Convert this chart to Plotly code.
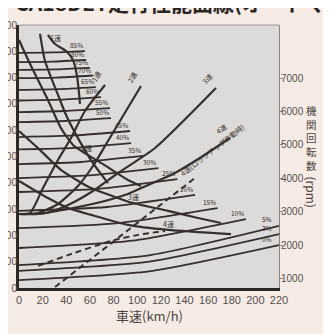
import plotly.graph_objects as go

# ---------------- data ----------------
speed_ticks = list(range(0, 221, 20))
rpm_ticks = [1000, 2000, 3000, 4000, 5000, 6000, 7000]
force_ticks = list(range(0, 1001, 100))

# running-resistance curves per grade: force at 0 km/h, mid speed, end speed
grade_labels = ["85%", "80%", "75%", "70%", "65%", "60%", "55%", "50%", "45%", "40%",
                "35%", "30%", "25%", "20%", "15%", "10%", "5%", "3%", "0%"]
grade_end_speed = [55.8, 56.7, 60.1, 62.6, 65.0, 69.4, 77.0, 77.8, 94.0, 94.8,
                   105, 118, 134, 149, 168, 192, 220, 220, 220]
grade_force_start = [894, 859, 829, 798, 753, 713, 669, 631, 574, 527,
                     471, 418, 365, 293, 228, 152, 87, 65, 30]
grade_force_mid = [896, 861, 831, 800, 756, 716, 673, 635, 580, 533,
                   479, 428, 377, 308, 247, 180, 124, 100, 63]
grade_force_end = [901, 867, 837, 808, 764, 726, 684, 646, 597, 551,
                   502, 456, 414, 354, 304, 262, 236, 205, 163]

# engine speed per gear (right axis)
rpm1_speed = [0, 9.3, 20.3, 33.0, 44.0, 55.8, 72.8]
rpm1_value = [2940, 2970, 3716, 4552, 5209, 6015, 6791]
rpm2_speed = [0, 16.1, 33.0, 49.9, 62.6, 75.3, 103.2]
rpm2_value = [2940, 2970, 3239, 3776, 4373, 5119, 6761]
rpm3_speed = [0, 22.8, 41.5, 62.6, 83.8, 115.1, 166.7]
rpm3_value = [2940, 2970, 3209, 3627, 4164, 4910, 6701]
rpm4_speed = [0, 16.1, 41.5, 69.4, 92.2, 109.2, 130.3, 155.7, 178.5]
rpm4_value = [2940, 2940, 3090, 3299, 3537, 3806, 4134, 4672, 5209]
rpm4_lockup_speed = [30.5, 148.9]
rpm4_lockup_value = [761, 4015]

# driving force per gear (left axis)
drive1_speed = [24.5, 30.5, 39.8, 45.7, 49.1, 50.8, 51.6]
drive1_force = [962, 928, 901, 867, 806, 741, 700]
drive_a_speed = [0, 10.2, 24.5, 35.5, 45.7, 56.7, 71.1, 92.2, 103.2]
drive_a_force = [943, 844, 715, 608, 544, 510, 471, 411, 388]
drive_b_speed = [17.8, 22.0, 33.0, 39.8, 49.9, 62.6, 75.3]
drive_b_force = [966, 863, 734, 658, 570, 475, 399]
drive3_speed = [0, 16.1, 35.5, 60.9, 83.8, 96.5, 126.1, 151.5, 170.9]
drive3_force = [597, 532, 449, 380, 342, 323, 293, 266, 247]
drive4_speed = [0, 24.5, 41.5, 60.9, 92.2, 126.1, 179.4]
drive4_force = [407, 342, 304, 278, 240, 221, 205]
drive4_lockup_speed = [16.1, 41.5, 77.8, 100.7, 123.5]
drive4_lockup_force = [84, 125, 179, 202, 217]

# ---------------- figure ----------------
INK = "#352f2d"
GREY = "#555050"
fig = go.Figure()


def add(xs, ys, axis="y", width=2.0, dash="solid", shape="spline"):
    fig.add_trace(go.Scatter(x=xs, y=ys, mode="lines", yaxis=axis, hoverinfo="skip",
                             line=dict(color=INK, width=width, dash=dash, shape=shape,
                                       smoothing=0.6)))


for lab, e, f0, fm, fe in zip(grade_labels, grade_end_speed, grade_force_start,
                              grade_force_mid, grade_force_end):
    add([0, e / 2, e], [f0, fm, fe], width=1.8)

add(drive1_speed, drive1_force, width=2.2)
add(drive_a_speed, drive_a_force, width=2.2)
add(drive_b_speed, drive_b_force, width=2.2)
add(drive3_speed, drive3_force, width=2.2)
add(drive4_speed, drive4_force, width=2.2)
add(drive4_lockup_speed, drive4_lockup_force, width=2.0, dash="6px,4px")

add(rpm1_speed, rpm1_value, axis="y2", width=2.2)
add(rpm2_speed, rpm2_value, axis="y2", width=2.2)
add(rpm3_speed, rpm3_value, axis="y2", width=2.2)
add(rpm4_speed, rpm4_value, axis="y2", width=2.2)
add(rpm4_lockup_speed, rpm4_lockup_value, axis="y2", width=2.0, dash="6px,4px", shape="linear")

ann = []
small = dict(size=7, color=INK, family="Noto Sans CJK JP")
tiny = dict(size=6.5, color=INK, family="Noto Sans CJK JP")
for lab, e, fe in zip(grade_labels, grade_end_speed, grade_force_end):
    xs = -6 if e >= 220 else -1
    ys = 1 if lab == "5%" else 0
    ann.append(dict(x=e, y=fe, xref="x", yref="y", text=lab, showarrow=False, borderpad=0,
                    xanchor="right", yanchor="bottom", xshift=xs, yshift=ys, font=tiny))

# gear labels at ends of engine-speed curves
for lab, xs, ys, ang in [("1速", rpm1_speed, rpm1_value, -60), ("2速", rpm2_speed, rpm2_value, -60),
                         ("3速", rpm3_speed, rpm3_value, -45), ("4速", rpm4_speed, rpm4_value, -35)]:
    ann.append(dict(x=xs[-1], y=ys[-1], xref="x", yref="y2", text=lab, showarrow=False,
                    borderpad=0, textangle=ang, xanchor="right", yanchor="bottom", font=small))
# gear labels on driving-force curves
for lab, xs, ys, i in [("1速", drive1_speed, drive1_force, 1), ("2速", drive_a_speed, drive_a_force, 5),
                       ("3速", drive3_speed, drive3_force, 5), ("4速", drive4_speed, drive4_force, 5)]:
    ann.append(dict(x=xs[i], y=ys[i], xref="x", yref="y", text=lab, showarrow=False,
                    borderpad=0, yanchor="bottom", xanchor="center", font=small))
ann.append(dict(x=rpm4_lockup_speed[-1], y=rpm4_lockup_value[-1], xref="x", yref="y2",
                text="4速(ロックアップ作動時)", showarrow=False, textangle=-38, borderpad=0,
                xanchor="left", yanchor="middle", xshift=-18, yshift=28, font=small))

# right-axis tick labels (engine speed)
for r in rpm_ticks:
    ann.append(dict(x=1, y=r, xref="paper", yref="y2", text=str(r), showarrow=False,
                    xanchor="left", yanchor="middle", xshift=1, borderpad=0,
                    font=dict(size=10, color=GREY, family="Liberation Sans")))

# title (cut by the top edge, as in the source)
ann.append(dict(x=-0.023, y=1, xref="paper", yref="paper", xanchor="left", yanchor="bottom",
                yshift=6, text="<b>CA18DET走行性能曲線(オートマチック)</b>", showarrow=False,
                font=dict(size=21, color="#2a2624", family="Noto Sans CJK JP")))
# x-axis title
ann.append(dict(x=0.5, y=0, xref="paper", yref="paper", xanchor="center", yanchor="middle",
                yshift=-27, text="車速(km/h)", showarrow=False, borderpad=0,
                font=dict(size=13, color="#4a4442", family="Noto Sans CJK JP")))
# right axis title (vertical writing)
ann.append(dict(x=1.125, y=1, xref="paper", yref="paper", xanchor="center", yanchor="middle",
                yshift=-113, text="<br>".join("機関回転数"), showarrow=False, borderpad=0,
                font=dict(size=10.5, color="#4a4442", family="Noto Sans CJK JP")))
ann.append(dict(x=1.125, y=1, xref="paper", yref="paper", xanchor="center", yanchor="middle",
                yshift=-167, text="(rpm)", textangle=90, showarrow=False, borderpad=0,
                font=dict(size=12, color="#4a4442", family="Noto Sans CJK JP")))

fig.update_layout(
    width=331, height=334, margin=dict(l=11, r=60, t=17, b=54),
    paper_bgcolor="#f6ebe5", plot_bgcolor="#dddbd9", showlegend=False,
    template="none", annotations=ann,
    xaxis=dict(range=[0, 220], tickvals=speed_ticks, showline=True, linecolor="#2d2826",
               linewidth=2.5, ticks="", showgrid=False, zeroline=False, automargin=False,
               tickfont=dict(size=11, color=GREY, family="Liberation Sans")),
    yaxis=dict(range=[0, 1000], tickvals=force_ticks, showline=True, linecolor="#2d2826",
               linewidth=3, ticks="", showgrid=False, zeroline=False, automargin=False,
               ticklabelstandoff=-3,
               tickfont=dict(size=10, color=GREY, family="Liberation Sans")),
    yaxis2=dict(range=[731, 8582], overlaying="y", side="right", tickvals=rpm_ticks,
                showline=True, linecolor="#8a8584", linewidth=1, ticks="outside", ticklen=3,
                tickcolor="#8a8584", showgrid=False, zeroline=False, automargin=False,
                showticklabels=False),
    shapes=[dict(type="line", xref="paper", yref="paper", x0=0, x1=1, y0=1, y1=1,
                 line=dict(color="#9a9594", width=1))],
)

fig.write_html("out.html")
